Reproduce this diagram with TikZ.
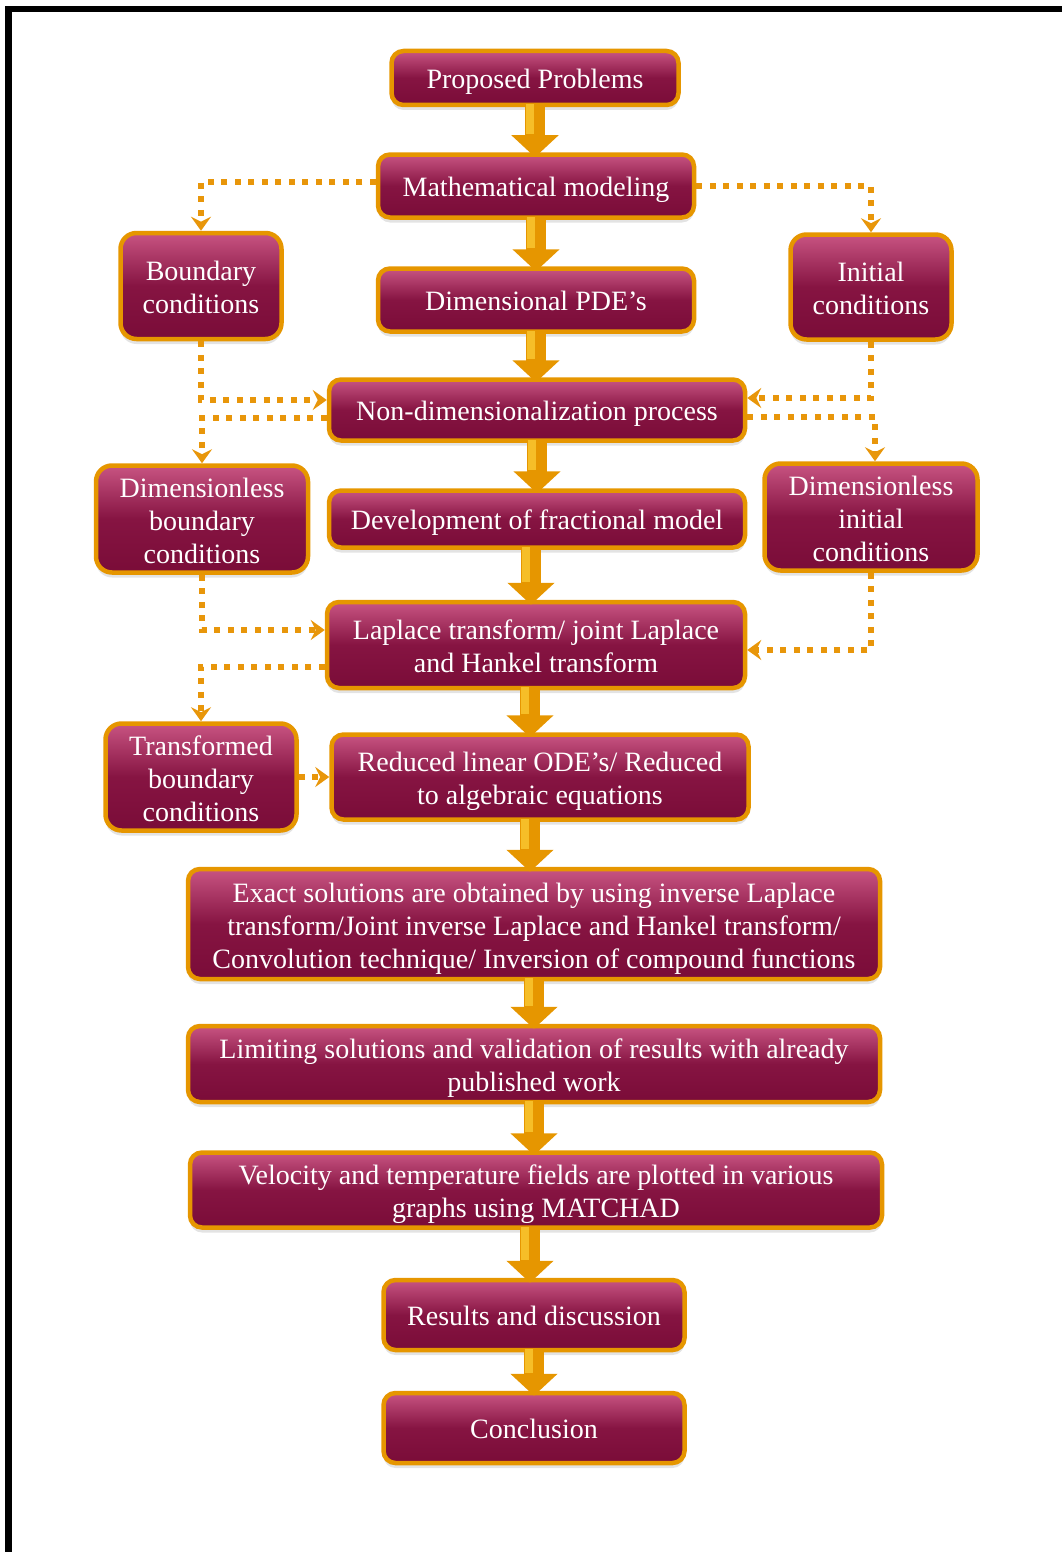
\documentclass[tikz,border=0pt]{standalone}
\usepackage{fontspec}
\setmainfont{Liberation Serif}
\usetikzlibrary{arrows.meta,shadows}
\definecolor{boxtop}{RGB}{200,84,130}
\definecolor{boxmid}{RGB}{134,20,66}
\definecolor{boxbot}{RGB}{122,12,56}
\definecolor{goldc}{RGB}{230,150,0}
\definecolor{goldlight}{RGB}{246,190,40}
\definecolor{dotc}{RGB}{232,150,10}
\newcommand\firstln{\rule{0pt}{28pt}}
\begin{document}
\begin{tikzpicture}[x=1pt,y=-1pt,
  box/.style={draw=goldc, line width=4.5pt, rounded corners=12pt,
    top color=boxtop, bottom color=boxbot, middle color=boxmid,
    text=white, align=center, font=\fontsize{28}{33}\selectfont, inner sep=0pt,
    execute at begin node={\rule{0pt}{27pt}},
    execute at end node={\rule[-6pt]{0pt}{6pt}},
    drop shadow={shadow xshift=0pt, shadow yshift=-5pt, opacity=0.22}},
  sbox/.style={box, rounded corners=16pt},
  bigarrow/.style={draw=goldc, line width=20pt, -{Triangle[width=46pt,length=22pt]},
    shorten >=-5pt, shorten <=-3pt,
    postaction={draw=goldlight, line width=8pt, -, shorten >=18pt, shorten <=-3pt,
      transform canvas={xshift=-5pt}}},
  dotarrow/.style={draw=dotc, line width=5.5pt, dash pattern=on 6pt off 7.5pt,
    -{Stealth[width=20pt,length=14pt,inset=5pt]}}]
\useasboundingbox (0,0) rectangle (1062,1552);
% frame lines
\fill[black] (5,6) rectangle (1062,12);
\fill[black] (5,6) rectangle (12,1552);
% main column
\node[box, minimum width=287pt, minimum height=54pt] (prop) at (535,78) {Proposed Problems};
\node[box, minimum width=316pt, minimum height=63pt] (math) at (536,186) {Mathematical modeling};
\node[box, minimum width=316pt, minimum height=63pt] (pde) at (536,300) {Dimensional PDE’s};
\node[box, minimum width=416pt, minimum height=61pt] (nondim) at (537,410) {Non-dimensionalization process};
\node[box, minimum width=416pt, minimum height=57pt] (dev) at (537,519) {Development of fractional model};
\node[box, minimum width=418pt, minimum height=86pt] (lap) at (536,645) {\firstln Laplace transform/ joint Laplace\\and Hankel transform};
\node[box, minimum width=417pt, minimum height=85pt] (red) at (540,777) {\firstln Reduced linear ODE’s/ Reduced\\to algebraic equations};
\node[box, minimum width=692pt, minimum height=110pt] (exact) at (534,924) {\firstln Exact solutions are obtained by using inverse Laplace\\transform/Joint inverse Laplace and Hankel transform/\\Convolution technique/ Inversion of compound functions};
\node[box, minimum width=692pt, minimum height=76pt] (lim) at (534,1064) {\firstln Limiting solutions and validation of results with already\\published work};
\node[box, minimum width=692pt, minimum height=75pt] (vel) at (536,1190) {\firstln Velocity and temperature fields are plotted in various\\graphs using MATCHAD};
\node[box, minimum width=301pt, minimum height=70pt] (res) at (534,1315) {Results and discussion};
\node[box, minimum width=301pt, minimum height=70pt] (conc) at (534,1428) {Conclusion};
% side boxes
\node[sbox, minimum width=161pt, minimum height=106pt] (bc) at (201,286) {\firstln Boundary\\conditions};
\node[sbox, minimum width=161pt, minimum height=105pt] (ic) at (871,287) {\firstln Initial\\conditions};
\node[sbox, minimum width=212pt, minimum height=107pt] (dbc) at (202,519) {\firstln Dimensionless\\boundary\\conditions};
\node[sbox, minimum width=213pt, minimum height=107pt] (dic) at (871,517) {\firstln Dimensionless\\initial\\conditions};
\node[sbox, minimum width=191pt, minimum height=107pt] (tbc) at (201,777) {\firstln Transformed\\boundary\\conditions};
% block arrows
\draw[bigarrow] (prop.south) -- (prop.south |- math.north);
\draw[bigarrow] (math.south) -- (math.south |- pde.north);
\draw[bigarrow] (pde.south) -- (pde.south |- nondim.north);
\draw[bigarrow] (nondim.south) -- (nondim.south |- dev.north);
\draw[bigarrow] ([xshift=-6pt]dev.south) -- ([xshift=-6pt]dev.south |- lap.north);
\draw[bigarrow] ([xshift=-6pt]lap.south) -- ([xshift=-6pt]lap.south |- red.north);
\draw[bigarrow] ([xshift=-10pt]red.south) -- ([xshift=-10pt]red.south |- exact.north);
\draw[bigarrow] (exact.south) -- (exact.south |- lim.north);
\draw[bigarrow] (lim.south) -- (lim.south |- vel.north);
\draw[bigarrow] ([xshift=-6pt]vel.south) -- ([xshift=-6pt]vel.south |- res.north);
\draw[bigarrow] (res.south) -- (res.south |- conc.north);
% dotted connectors
\draw[dotarrow] ([yshift=4pt]math.west) -| (bc.north);
\draw[dotarrow] (math.east) -| (ic.north);
\draw[dotarrow] (bc.south) |- ([yshift=10pt]nondim.west);
\draw[dotarrow] ([yshift=-8pt]nondim.west) -| (dbc.north);
\draw[dotarrow] (ic.south) |- ([yshift=12pt]nondim.east);
\draw[dotarrow] ([yshift=-7pt]nondim.east) -| ([xshift=4pt]dic.north);
\draw[dotarrow] (dbc.south) |- ([yshift=15pt]lap.west);
\draw[dotarrow] ([yshift=-22pt]lap.west) -| (tbc.north);
\draw[dotarrow] (dic.south) |- ([yshift=-5pt]lap.east);
\draw[dotarrow] (tbc.east) -- (red.west);
\end{tikzpicture}
\end{document}
